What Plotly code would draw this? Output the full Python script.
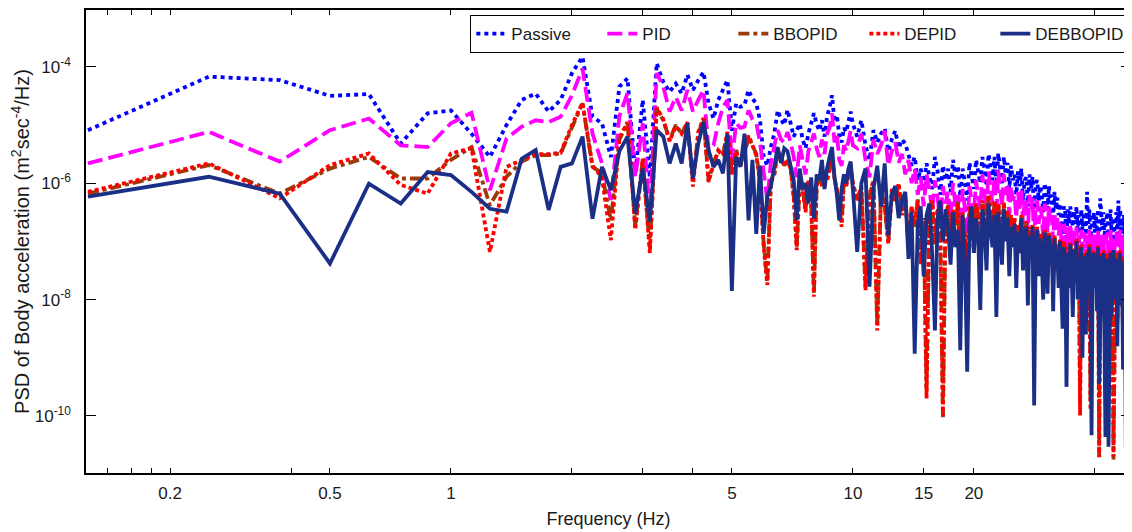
import numpy as np
import plotly.graph_objects as go

# frequency bins (Hz): 0.125 Hz steps up to 10 Hz, then 0.25 Hz steps up to 49 Hz
freq = np.concatenate([np.arange(1, 81) * 0.125, 10 + np.arange(1, 157) * 0.25])

# PSD values, stored as log10(PSD)
passive_log = [
    -5.09, -4.17, -4.23, -4.50, -4.47, -5.32, -4.80, -4.75, -5.15, -5.55,
    -5.00, -4.57, -4.46, -4.77, -4.57, -4.11, -3.83, -4.86, -4.97, -5.55,
    -4.34, -4.20, -5.85, -4.57, -5.90, -3.94, -4.26, -4.43, -4.29, -4.46,
    -4.14, -4.40, -4.23, -4.09, -4.63, -4.89, -4.57, -4.40, -4.23, -5.10,
    -4.63, -4.69, -4.66, -4.40, -4.55, -4.63, -4.92, -5.55, -5.70, -5.38,
    -5.15, -4.75, -4.90, -5.00, -4.74, -4.97, -5.20, -5.09, -4.98, -5.25,
    -5.40, -5.15, -4.95, -4.80, -4.98, -5.10, -4.92, -5.20, -4.85, -4.70,
    -4.49, -4.95, -4.83, -5.18, -5.30, -5.05, -5.12, -4.95, -4.77, -4.98,
    -5.20, -4.92, -5.35, -5.60, -5.09, -5.30, -5.15, -5.06, -5.45, -5.25,
    -5.10, -5.40, -5.25, -5.32, -5.50, -5.70, -5.55, -5.95, -5.75, -6.05,
    -5.66, -5.85, -6.10, -5.55, -5.80, -6.20, -5.70, -5.95, -5.75, -6.15,
    -5.60, -5.90, -5.70, -6.23, -5.75, -6.00, -6.30, -5.65, -5.85, -6.10,
    -5.60, -5.85, -6.00, -5.55, -5.75, -6.05, -5.50, -5.70, -5.95, -5.55,
    -6.10, -5.49, -5.75, -6.00, -5.55, -5.85, -5.65, -6.10, -5.70, -5.95,
    -5.85, -6.20, -5.80, -6.05, -5.75, -6.30, -5.95, -5.90, -6.40, -5.85,
    -6.10, -5.89, -6.60, -6.00, -5.95, -6.30, -6.05, -6.20, -6.50, -6.00,
    -6.15, -6.45, -6.05, -6.35, -6.20, -6.60, -6.15, -6.45, -6.25, -6.55,
    -6.35, -6.60, -6.90, -6.40, -6.50, -6.95, -6.45, -6.70, -6.40, -6.60,
    -6.75, -6.47, -6.70, -6.40, -6.80, -6.55, -6.95, -6.45, -6.81, -6.60,
    -6.50, -6.90, -6.15, -6.70, -6.45, -6.95, -6.65, -6.55, -6.50, -6.85,
    -6.55, -6.85, -6.45, -7.00, -6.26, -6.55, -6.80, -6.50, -6.95, -6.70,
    -6.60, -6.50, -6.90, -6.65, -6.45, -6.85, -6.60, -7.00, -6.75, -6.60,
    -6.50, -6.95, -6.30, -6.75, -6.45, -6.85, -6.60, -6.95, -6.55, -6.80,
    -7.00, -6.70, -6.85, -6.60, -6.90, -6.75,
]

pid_log = [
    -5.66, -5.12, -5.63, -5.09, -4.89, -5.35, -5.38, -4.97, -4.79, -6.12,
    -5.23, -5.03, -4.92, -4.95, -4.86, -4.49, -4.03, -5.15, -5.66, -6.29,
    -4.85, -4.45, -5.90, -4.97, -6.50, -4.11, -4.34, -4.77, -4.52, -4.75,
    -4.40, -4.77, -4.57, -4.40, -5.43, -5.35, -4.97, -4.69, -4.57, -5.60,
    -4.97, -5.05, -5.03, -4.75, -4.90, -4.97, -5.30, -5.85, -6.30, -5.65,
    -5.40, -5.09, -5.25, -5.30, -5.12, -5.30, -5.55, -5.90, -5.35, -5.60,
    -5.85, -5.45, -5.30, -5.15, -5.40, -5.55, -5.25, -5.50, -5.15, -5.05,
    -4.80, -5.30, -5.15, -5.60, -5.70, -5.35, -5.45, -5.25, -5.10, -5.35,
    -5.40, -5.15, -5.60, -5.90, -5.25, -5.50, -5.35, -5.10, -5.70, -5.45,
    -5.30, -5.65, -5.50, -5.85, -5.60, -6.00, -5.75, -6.20, -5.90, -6.40,
    -5.85, -6.10, -6.50, -5.95, -6.25, -6.70, -6.05, -6.35, -6.15, -6.60,
    -6.00, -6.40, -6.20, -6.75, -6.10, -6.45, -6.90, -6.05, -6.30, -6.55,
    -5.95, -6.25, -6.45, -5.85, -6.15, -6.50, -5.80, -6.05, -6.35, -5.90,
    -6.60, -5.78, -6.10, -6.40, -5.85, -6.20, -6.00, -6.55, -6.05, -6.30,
    -6.20, -6.60, -6.15, -6.45, -6.10, -6.70, -6.30, -6.25, -6.85, -6.20,
    -6.45, -6.25, -7.10, -6.35, -6.30, -6.70, -6.40, -6.55, -6.95, -6.35,
    -6.50, -6.85, -6.40, -6.70, -6.55, -7.00, -6.50, -6.80, -6.60, -6.90,
    -6.65, -6.95, -7.30, -6.70, -6.85, -7.40, -6.75, -7.05, -6.70, -6.95,
    -7.10, -6.80, -7.05, -6.75, -7.20, -6.90, -7.40, -6.80, -7.15, -6.95,
    -6.85, -7.30, -6.90, -7.10, -6.80, -7.35, -7.05, -6.90, -6.85, -7.20,
    -6.90, -7.25, -6.80, -7.40, -7.00, -6.90, -7.20, -6.85, -7.35, -7.05,
    -6.95, -6.85, -7.30, -7.05, -6.80, -7.25, -6.95, -7.40, -7.10, -6.95,
    -6.85, -7.30, -6.95, -7.10, -6.80, -7.25, -7.00, -7.35, -6.90, -7.15,
    -7.40, -7.05, -7.20, -6.95, -7.25, -7.10,
]

bbopid_log = [
    -6.18, -5.69, -6.18, -5.75, -5.55, -5.92, -5.92, -5.60, -5.38, -6.38,
    -5.89, -5.63, -5.52, -5.52, -5.49, -5.03, -4.63, -5.72, -5.83, -6.64,
    -5.25, -4.97, -6.75, -5.60, -7.10, -4.72, -4.92, -5.26, -5.00, -5.15,
    -4.97, -5.95, -5.15, -4.89, -5.95, -5.66, -5.43, -5.50, -5.15, -5.83,
    -5.43, -5.66, -5.50, -5.20, -5.35, -5.50, -5.95, -7.05, -7.70, -5.95,
    -5.85, -5.45, -5.55, -5.70, -5.60, -5.75, -6.20, -7.09, -5.95, -6.10,
    -6.45, -5.95, -6.30, -7.90, -6.05, -5.85, -6.05, -5.80, -5.95, -5.70,
    -5.55, -5.90, -6.10, -6.40, -6.70, -5.95, -6.05, -5.85, -5.70, -6.00,
    -6.28, -6.08, -7.80, -6.22, -5.98, -8.45, -6.12, -6.42, -7.00, -6.12,
    -6.32, -6.02, -6.50, -6.22, -7.05, -6.42, -6.75, -6.28, -7.35, -6.62,
    -9.55, -6.48, -6.32, -7.05, -6.42, -6.82, -10.02, -6.58, -6.38, -7.05,
    -6.48, -6.72, -6.32, -7.55, -6.52, -6.88, -7.70, -6.42, -6.62, -7.15,
    -6.38, -6.52, -7.35, -6.32, -6.48, -6.95, -6.22, -6.48, -6.85, -6.32,
    -7.50, -6.38, -6.62, -7.05, -6.35, -6.72, -6.48, -7.15, -6.58, -6.82,
    -6.62, -7.25, -6.72, -6.92, -6.58, -7.15, -6.82, -6.68, -7.55, -6.78,
    -6.98, -6.72, -8.40, -6.92, -6.78, -7.25, -6.88, -7.08, -7.65, -6.82,
    -7.02, -7.45, -6.88, -7.18, -6.98, -7.75, -6.92, -7.28, -7.08, -7.45,
    -6.98, -7.38, -8.05, -7.02, -7.18, -8.50, -7.12, -7.50, -7.02, -7.32,
    -7.85, -7.12, -7.42, -6.98, -7.65, -7.22, -9.80, -7.08, -8.30, -7.32,
    -7.22, -8.10, -7.18, -7.42, -7.08, -9.75, -7.58, -7.32, -7.18, -7.58,
    -7.28, -7.85, -7.08, -10.70, -7.42, -7.22, -7.68, -7.18, -8.20, -7.52,
    -7.32, -7.22, -9.30, -7.48, -7.18, -7.95, -7.38, -10.75, -7.75, -7.42,
    -7.22, -8.35, -7.32, -7.48, -7.18, -7.85, -7.42, -8.50, -7.28, -7.58,
    -9.00, -7.48, -7.60, -7.35, -7.70, -7.50,
]

depid_log = [
    -6.15, -5.66, -6.26, -5.69, -5.49, -6.03, -6.18, -5.49, -5.40, -7.18,
    -5.72, -5.60, -5.50, -5.50, -5.48, -5.00, -4.62, -5.70, -5.90, -6.98,
    -5.22, -4.95, -6.80, -5.58, -7.20, -4.70, -4.90, -5.28, -5.02, -5.15,
    -4.95, -6.06, -5.12, -4.88, -5.98, -5.68, -5.45, -5.52, -5.12, -5.85,
    -5.45, -5.70, -5.50, -5.18, -5.35, -5.52, -6.00, -7.09, -7.75, -5.98,
    -5.85, -5.45, -5.58, -5.70, -5.62, -5.75, -6.25, -7.15, -5.95, -6.12,
    -6.50, -5.95, -6.35, -7.95, -6.05, -5.85, -6.05, -5.80, -5.95, -5.72,
    -5.55, -5.92, -6.12, -6.45, -6.75, -5.95, -6.05, -5.88, -5.70, -6.02,
    -6.30, -6.05, -7.84, -6.20, -5.95, -8.53, -6.15, -6.40, -7.04, -6.10,
    -6.30, -6.00, -6.55, -6.20, -7.10, -6.40, -6.70, -6.30, -7.40, -6.60,
    -9.70, -6.50, -6.30, -7.00, -6.45, -6.80, -10.00, -6.55, -6.40, -7.10,
    -6.45, -6.70, -6.35, -7.60, -6.50, -6.90, -7.80, -6.40, -6.60, -7.20,
    -6.35, -6.55, -7.40, -6.30, -6.50, -7.00, -6.20, -6.45, -6.90, -6.30,
    -7.60, -6.35, -6.60, -7.10, -6.32, -6.75, -6.45, -7.20, -6.55, -6.85,
    -6.60, -7.30, -6.70, -6.95, -6.55, -7.20, -6.80, -6.65, -7.60, -6.75,
    -7.00, -6.70, -8.50, -6.90, -6.75, -7.30, -6.85, -7.10, -7.70, -6.80,
    -7.00, -7.50, -6.85, -7.20, -6.95, -7.80, -6.90, -7.30, -7.05, -7.50,
    -6.95, -7.40, -8.10, -7.00, -7.20, -8.60, -7.10, -7.55, -7.00, -7.35,
    -7.90, -7.10, -7.45, -6.95, -7.70, -7.20, -9.99, -7.05, -8.40, -7.30,
    -7.20, -8.20, -7.15, -7.45, -7.05, -9.90, -7.60, -7.30, -7.15, -7.60,
    -7.25, -7.90, -7.05, -10.71, -7.40, -7.20, -7.70, -7.15, -8.30, -7.50,
    -7.30, -7.20, -9.40, -7.45, -7.15, -8.00, -7.35, -10.70, -7.80, -7.40,
    -7.20, -8.40, -7.30, -7.50, -7.15, -7.90, -7.40, -8.60, -7.25, -7.60,
    -9.10, -7.45, -7.55, -7.30, -7.65, -7.45,
]

debbopid_log = [
    -6.23, -5.89, -6.18, -7.38, -6.01, -6.35, -5.81, -5.86, -6.15, -6.44,
    -6.49, -5.58, -5.43, -6.46, -5.72, -5.66, -5.20, -6.61, -5.72, -6.12,
    -5.45, -5.20, -6.52, -5.75, -6.66, -5.09, -5.20, -5.66, -5.32, -5.66,
    -4.97, -5.92, -5.32, -4.95, -5.43, -5.72, -5.60, -5.83, -5.15, -7.85,
    -5.55, -5.72, -5.15, -6.64, -5.60, -6.87, -5.70, -6.87, -6.23, -6.06,
    -5.72, -5.38, -5.65, -5.40, -5.45, -5.70, -5.95, -6.64, -5.75, -6.10,
    -6.00, -6.35, -5.90, -6.61, -5.85, -5.95, -5.60, -6.10, -5.75, -5.55,
    -5.38, -5.90, -6.20, -6.64, -6.10, -5.85, -6.00, -5.75, -5.63, -6.10,
    -7.18, -6.00, -5.75, -7.78, -6.10, -5.70, -6.40, -5.66, -6.90, -6.20,
    -6.05, -6.60, -6.30, -6.15, -7.30, -6.50, -8.93, -6.70, -6.40, -7.60,
    -6.55, -6.35, -7.20, -8.53, -6.60, -6.30, -7.00, -6.45, -6.75, -7.40,
    -6.50, -7.10, -6.80, -8.87, -6.55, -7.30, -9.24, -6.70, -6.40, -7.20,
    -6.60, -6.90, -8.18, -6.45, -6.70, -7.50, -6.35, -6.80, -7.10, -6.55,
    -8.30, -6.50, -6.90, -7.40, -6.45, -7.00, -6.60, -7.60, -6.75, -7.10,
    -6.70, -7.80, -6.85, -7.20, -6.60, -7.50, -7.00, -6.75, -8.10, -6.90,
    -7.30, -6.75, -9.82, -7.10, -6.80, -7.60, -6.95, -7.30, -8.00, -6.85,
    -7.20, -7.90, -6.90, -7.40, -7.05, -8.20, -6.95, -7.50, -7.15, -7.80,
    -7.00, -7.60, -8.50, -7.10, -7.35, -9.50, -7.20, -7.80, -7.05, -7.50,
    -8.30, -7.15, -7.60, -7.00, -8.00, -7.30, -7.70, -7.10, -9.00, -7.40,
    -7.25, -8.60, -7.20, -7.55, -7.10, -7.90, -10.33, -7.40, -7.20, -7.80,
    -7.35, -8.20, -7.10, -9.45, -7.50, -7.25, -7.90, -7.20, -8.60, -10.36,
    -7.40, -7.30, -10.53, -7.60, -7.20, -8.30, -7.45, -7.15, -8.00, -7.50,
    -7.30, -8.80, -7.40, -7.60, -7.20, -8.10, -7.50, -9.20, -7.35, -7.80,
    -10.56, -7.60, -7.90, -7.50, -8.40, -7.70,
]

names = ["Passive", "PID", "BBOPID", "DEPID", "DEBBOPID"]
series = [passive_log, pid_log, bbopid_log, depid_log, debbopid_log]
colors = ["#0000FF", "#FF00FF", "#9B3A0A", "#FF0000", "#1B2F87"]
dashes = ["4px,4px", "15px,6px", "11px,4px,4px,4px", "4px,3px", "solid"]

fig = go.Figure()
for name, vals, col, dash in zip(names, series, colors, dashes):
    fig.add_trace(go.Scatter(
        x=freq, y=10 ** np.array(vals), name=name, mode="lines",
        line=dict(color=col, dash=dash, width=3.8),
    ))

font = "Liberation Sans, Arial, sans-serif"

x_ticks = [0.14, 0.16, 0.18, 0.2, 0.4, 0.5, 1, 2, 3, 4, 5, 10, 15, 20, 40]
x_labels = ["", "", "", "0.2", "", "0.5", "1", "", "", "", "5", "10", "15", "20", ""]
y_ticks = [1e-10, 1e-8, 1e-6, 1e-4]
y_labels = ["10<sup>-10</sup>", "10<sup>-8</sup>", "10<sup>-6</sup>", "10<sup>-4</sup>"]

# the page body adds an 8px offset, so the figure is 8px smaller than the window
fig.update_layout(
    width=1124, height=524,
    margin=dict(l=78, r=1, t=2, b=59),
    paper_bgcolor="white", plot_bgcolor="white",
    font=dict(family=font, size=17, color="#1a1a1a"),
    showlegend=True,
    legend=dict(
        orientation="h", x=0.9965, xanchor="right", y=0.989, yanchor="top",
        bgcolor="white", bordercolor="black", borderwidth=1,
        font=dict(size=17), entrywidth=86, entrywidthmode="pixels",
    ),
    xaxis=dict(
        type="log", range=[np.log10(0.1236), np.log10(49.2)],
        tickvals=x_ticks, ticktext=x_labels,
        ticks="inside", ticklen=5, tickwidth=1, tickcolor="black",
        showline=True, linecolor="black", linewidth=1.5, mirror="ticks",
        showgrid=False, zeroline=False, automargin=False,
        tickfont=dict(size=17), ticklabelstandoff=4,
        title=dict(text="Frequency (Hz)", font=dict(size=18), standoff=10),
    ),
    yaxis=dict(
        type="log", range=[-10.98, -3.025],
        tickvals=y_ticks, ticktext=y_labels,
        ticks="inside", ticklen=10, tickwidth=1, tickcolor="black",
        showline=True, linecolor="black", linewidth=1.5, mirror="ticks",
        showgrid=False, zeroline=False, automargin=False,
        tickfont=dict(size=17), ticklabelstandoff=10,
        title=dict(text="PSD of Body acceleration (m<sup>2</sup>sec<sup>-4</sup>/Hz)",
                   font=dict(size=20), standoff=4),
    ),
)

fig.write_html("out.html")
